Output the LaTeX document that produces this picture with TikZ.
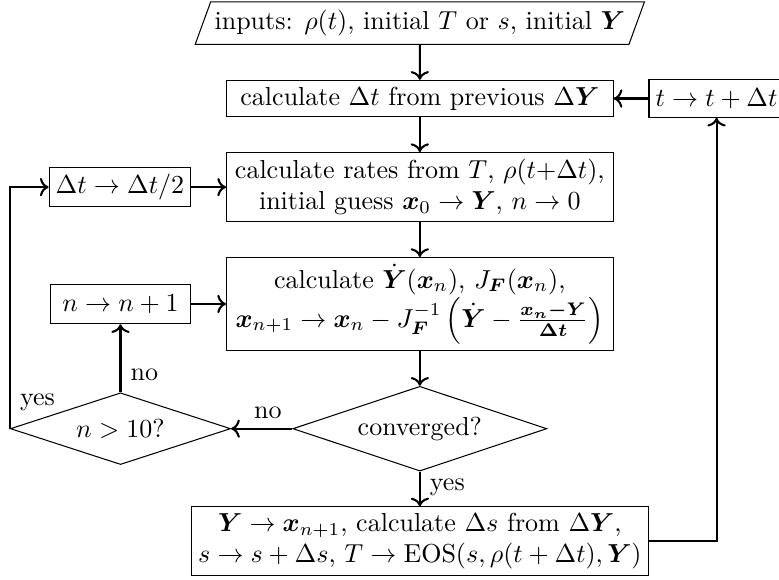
\documentclass[tikz,border=0pt]{standalone}
\usepackage{amsmath}
\usepackage{amssymb}
\usepackage{tikz}
\usetikzlibrary{shapes.geometric,arrows.meta,positioning}

\begin{document}
\begin{tikzpicture}[
  procbox/.style={draw, minimum width=148.7pt, align=center, inner sep=2.5pt},
  sidebox/.style={draw, minimum width=54pt, minimum height=15.2pt, inner sep=2.5pt},
  decision/.style={draw, diamond, aspect=3, inner sep=1pt},
  io/.style={draw, trapezium, trapezium left angle=70, trapezium right angle=110,
             inner xsep=1.5pt, inner ysep=3.2pt},
  arr/.style={-{To}, thick},
  lbl/.style={inner sep=3.5pt},
  node distance=13.4pt,
]
  % main column
  \node[io] (inp)
        {inputs: $\rho(t)$, initial $T$ or $s$, initial $\boldsymbol{Y}$};
  \node[procbox, below=of inp] (dt)
        {calculate $\Delta t$ from previous $\Delta\boldsymbol{Y}$};
  \node[procbox, below=of dt] (rates)
        {calculate rates from $T$, $\rho(t{+}\Delta t)$,\\
         initial guess $\boldsymbol{x}_0 \to \boldsymbol{Y}$, $n \to 0$};
  \node[procbox, below=of rates] (newton)
        {calculate $\dot{\boldsymbol{Y}}(\boldsymbol{x}_n)$, $J_{\boldsymbol{F}}(\boldsymbol{x}_n)$,\\
         $\boldsymbol{x}_{n+1} \to \boldsymbol{x}_n - J_{\boldsymbol{F}}^{-1}
         \left(\dot{\boldsymbol{Y}} - \boldsymbol{\frac{x_n - Y}{\Delta t}}\right)$};
  \node[decision, minimum width=97.7pt, minimum height=32.6pt, below=of newton] (conv)
        {converged?};
  \node[draw, align=center, inner sep=2.5pt, below=of conv] (upd)
        {$\boldsymbol{Y} \to \boldsymbol{x}_{n+1}$, calculate $\Delta s$ from $\Delta\boldsymbol{Y}$,\\
         $s \to s + \Delta s$, $T \to \mathrm{EOS}(s, \rho(t+\Delta t), \boldsymbol{Y})$};

  % side boxes
  \node[sidebox, left=of rates] (halve) {$\Delta t \to \Delta t/2$};
  \node[sidebox, left=of newton] (incr) {$n \to n+1$};
  \node[decision, minimum width=84.7pt, minimum height=27.6pt] (nmax) at (incr |- conv) {$n>10$?};
  \node[draw, minimum height=14.4pt, inner sep=2.5pt, right=of dt] (tstep) {$t \to t+\Delta t$};

  % arrows
  \foreach \a/\b in {inp/dt, dt/rates, rates/newton, newton/conv, tstep/dt, halve/rates, incr/newton}
    \draw[arr] (\a) -- (\b);
  \draw[arr] (conv) -- node[lbl, pos=0.4, above] {no} (nmax);
  \draw[arr] (nmax) -- node[lbl, pos=0.26, right] {no} (incr);
  \draw[arr] (conv) -- node[lbl, pos=0.45, right] {yes} (upd);
  \draw[arr] (nmax.west) |- node[lbl, pos=0.055, right] {yes} (halve.west);
  \draw[arr] (upd.east) -| (tstep.south);

  % page size
  \path (nmax.west |- inp.north) ++(-3.8pt,0.5pt) coordinate (bbtl);
  \path (tstep.west |- upd.south) ++(50.2pt,-1.1pt) coordinate (bbbr);
  \pgfresetboundingbox
  \path[use as bounding box] (bbtl) rectangle (bbbr);
\end{tikzpicture}
\end{document}
